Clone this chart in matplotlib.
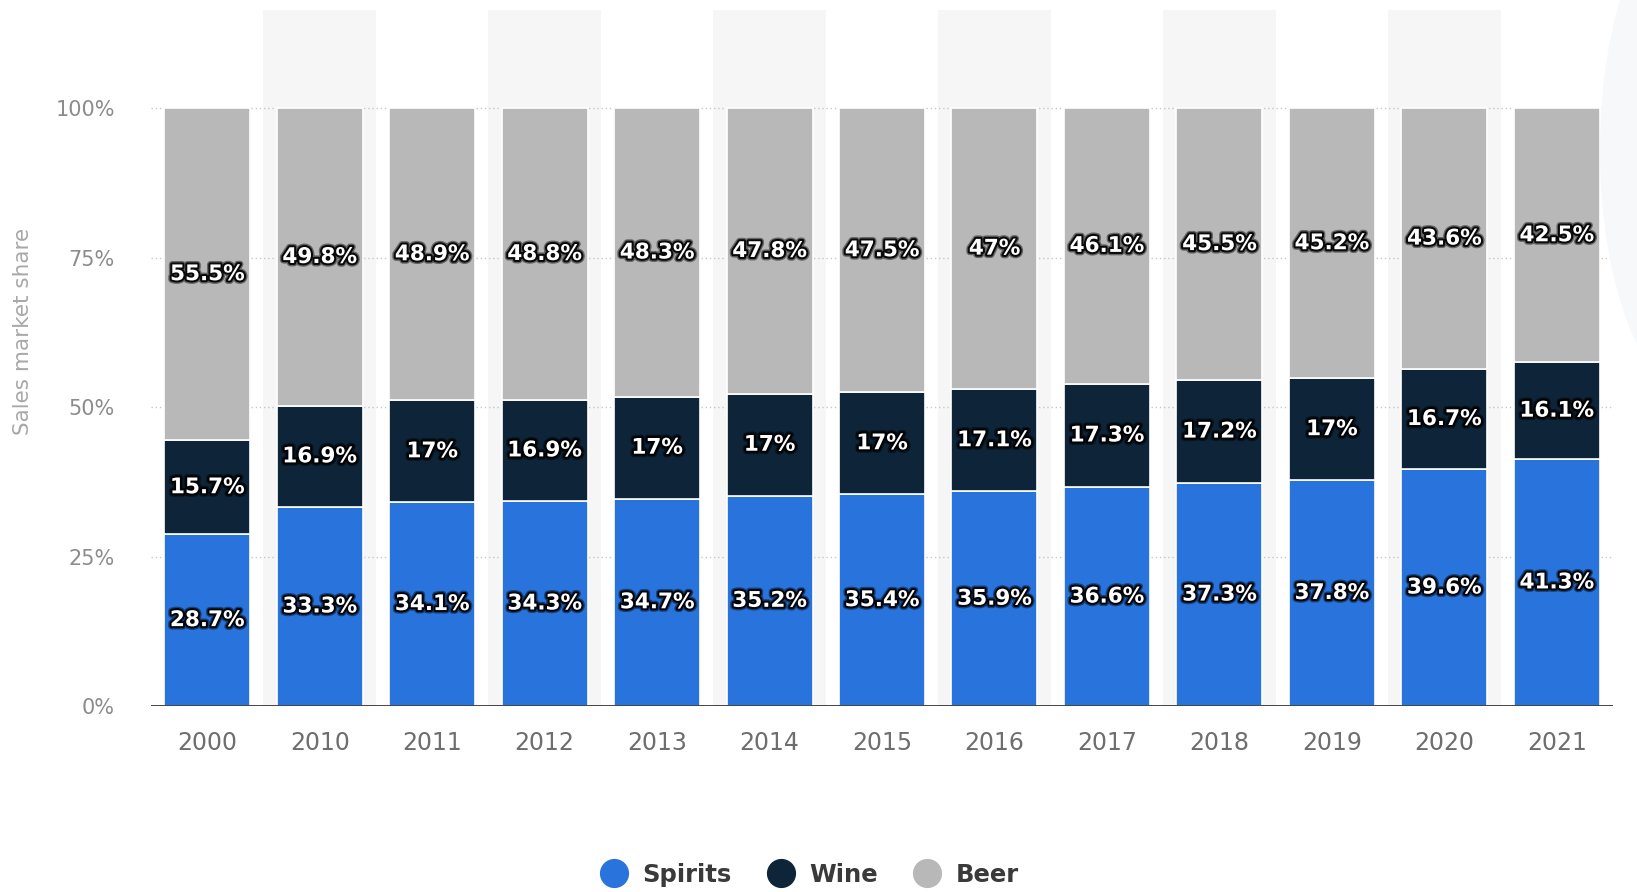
import matplotlib
matplotlib.use("Agg")
import matplotlib.pyplot as plt
import matplotlib.patheffects as pe
from matplotlib.lines import Line2D
from matplotlib.patches import Ellipse
import numpy as np

years = ["2000", "2010", "2011", "2012", "2013", "2014", "2015",
         "2016", "2017", "2018", "2019", "2020", "2021"]
spirits = [28.7, 33.3, 34.1, 34.3, 34.7, 35.2, 35.4, 35.9, 36.6, 37.3, 37.8, 39.6, 41.3]
wine = [15.7, 16.9, 17, 16.9, 17, 17, 17, 17.1, 17.3, 17.2, 17, 16.7, 16.1]
beer = [55.5, 49.8, 48.9, 48.8, 48.3, 47.8, 47.5, 47, 46.1, 45.5, 45.2, 43.6, 42.5]
series_names = ["Spirits", "Wine", "Beer"]
colors = ["#2874dc", "#0e2438", "#b8b8b8"]
y_ticks = [0, 25, 50, 75, 100]
y_tick_labels = ["0%", "25%", "50%", "75%", "100%"]

plt.rcParams["font.family"] = ["DejaVu Sans"]

W, H = 1637, 892
fig = plt.figure(figsize=(W / 100, H / 100), dpi=100)
fig.patch.set_facecolor("white")

# faint decorative shape at the right edge
fig.patches.append(Ellipse((1700 / W, 1 - 150 / H), 200 / W, 500 / H,
                           transform=fig.transFigure, facecolor="#f7f8fa",
                           edgecolor="none", zorder=0))

ax = fig.add_axes([151 / W, 1 - 706 / H, (1613 - 151) / W, (706 - 10) / H])
ax.set_facecolor("none")

n = len(years)
x = np.arange(n)
data = np.array([spirits, wine, beer], dtype=float)
totals = data.sum(axis=0)
shares = data / totals * 100  # percent stacking

ax.set_xlim(-0.5, n - 0.5)
ax.set_ylim(0, 116.4)

# alternating column bands
for i in range(n):
    if i % 2 == 1:
        ax.axvspan(i - 0.5, i + 0.5, color="#f6f6f6", zorder=0, lw=0)

# dotted gridlines up to 100%
for t in y_ticks[1:]:
    ax.plot([-0.5, n - 0.5], [t, t], linestyle=(0, (1, 2)), color="#c8c8c8",
            lw=1.0, zorder=1)

bw = 0.765
bottom = np.zeros(n)
label_fx = [pe.withStroke(linewidth=5, foreground="#000000", alpha=0.45),
            pe.withStroke(linewidth=3, foreground="#000000", alpha=0.9)]
for k in range(3):
    ax.bar(x, shares[k], bw, bottom=bottom, color=colors[k],
           edgecolor="white", linewidth=1.2, zorder=2)
    for i in range(n):
        yc = bottom[i] + shares[k][i] / 2
        ax.text(x[i], yc, f"{data[k][i]:g}%", ha="center", va="center",
                color="white", fontsize=15.5, fontweight="bold",
                path_effects=label_fx, zorder=4)
    bottom += shares[k]

ax.axhline(0, color="#333333", lw=2, zorder=3)

for s in ax.spines.values():
    s.set_visible(False)

ax.set_yticks(y_ticks)
ax.set_yticklabels(y_tick_labels)
ax.tick_params(axis="y", length=0, pad=26, labelsize=15, labelcolor="#8c8c8c")
ax.set_xticks(x)
ax.set_xticklabels(years)
ax.tick_params(axis="x", length=0, pad=18, labelsize=17, labelcolor="#6e6e6e")

fig.text(23 / W, 1 - 331 / H, "Sales market share", rotation=90,
         ha="center", va="center", fontsize=15.5, color="#a8a8a8")

handles = [Line2D([], [], marker="o", linestyle="none", markersize=20,
                  markerfacecolor=c, markeredgecolor=c) for c in colors]
leg = fig.legend(handles, series_names, loc="center", ncol=3, frameon=False,
                 bbox_to_anchor=(809 / W, 1 - 875 / H),
                 handletextpad=0.55, columnspacing=1.45, handlelength=1.2,
                 prop={"size": 17.5, "weight": "bold"})
for t in leg.get_texts():
    t.set_color("#3a3a3a")

fig.savefig("out.png", dpi=100, facecolor="white")
